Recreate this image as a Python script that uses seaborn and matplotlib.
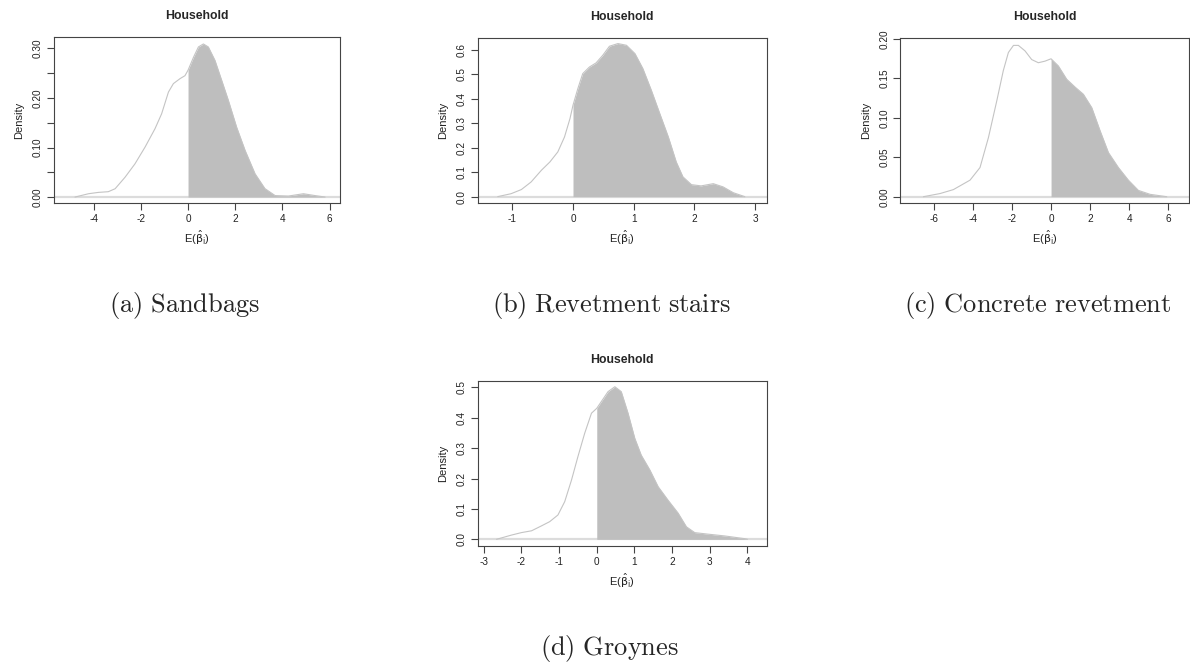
import numpy as np
import matplotlib
matplotlib.use("Agg")
import matplotlib.pyplot as plt
import seaborn as sns

# density curves (x = E(beta_i), y = density)
sandbags_x = [-4.79, -4.22, -3.80, -3.38, -3.09, -2.67, -2.25, -1.82, -1.40, -1.12, -0.83, -0.62,
              -0.34, -0.13, 0.0, 0.23, 0.44, 0.65, 0.86, 1.14, 1.43, 1.71, 2.06, 2.42, 2.84,
              3.26, 3.69, 4.25, 4.89, 5.38, 5.81]
sandbags_y = [0.0, 0.0067, 0.0094, 0.0108, 0.0168, 0.040, 0.067, 0.101, 0.138, 0.168, 0.212, 0.229,
              0.239, 0.245, 0.256, 0.282, 0.303, 0.309, 0.303, 0.276, 0.235, 0.195, 0.141, 0.094, 0.047,
              0.017, 0.003, 0.002, 0.0067, 0.003, 0.0]

stairs_x = [-1.24, -1.02, -0.85, -0.69, -0.52, -0.38, -0.25, -0.14, -0.05, 0.0, 0.08, 0.16, 0.27,
            0.38, 0.49, 0.60, 0.74, 0.88, 1.02, 1.15, 1.29, 1.43, 1.57, 1.70, 1.81, 1.95, 2.11,
            2.31, 2.47, 2.64, 2.83]
stairs_y = [0.0, 0.012, 0.029, 0.060, 0.108, 0.142, 0.183, 0.244, 0.319, 0.374, 0.442, 0.503, 0.530,
            0.547, 0.578, 0.615, 0.626, 0.619, 0.585, 0.524, 0.435, 0.339, 0.244, 0.142, 0.081, 0.049, 0.044,
            0.053, 0.040, 0.016, 0.0]

concrete_x = [-6.52, -5.67, -4.99, -4.14, -3.63, -3.20, -2.77, -2.44, -2.18, -1.92, -1.67, -1.33,
              -0.99, -0.65, -0.31, 0.0, 0.37, 0.80, 1.23, 1.65, 2.08, 2.50, 2.93, 3.44, 3.95,
              4.46, 5.06, 5.91]
concrete_y = [0.0, 0.004, 0.009, 0.021, 0.037, 0.075, 0.122, 0.160, 0.183, 0.192, 0.192, 0.185,
              0.174, 0.170, 0.172, 0.175, 0.166, 0.149, 0.139, 0.130, 0.113, 0.084, 0.056, 0.037, 0.021,
              0.008, 0.003, 0.0]

groynes_x = [-2.66, -2.26, -2.00, -1.73, -1.47, -1.25, -1.03, -0.85, -0.67, -0.50, -0.32, -0.14,
             0.0, 0.12, 0.30, 0.48, 0.65, 0.83, 1.01, 1.18, 1.41, 1.63, 1.89, 2.16, 2.38, 2.60,
             2.95, 3.40, 3.93, 4.00]
groynes_y = [0.0, 0.014, 0.022, 0.028, 0.044, 0.058, 0.080, 0.124, 0.195, 0.272, 0.349, 0.415,
             0.431, 0.453, 0.486, 0.502, 0.486, 0.415, 0.332, 0.277, 0.228, 0.173, 0.129, 0.086, 0.041, 0.022,
             0.017, 0.011, 0.002, 0.0]

captions = ["(a) Sandbags", "(b) Revetment stairs", "(c) Concrete revetment", "(d) Groynes"]

sns.set_style("ticks")
plt.rcParams['font.family'] = ['Liberation Sans', 'DejaVu Sans']
plt.rcParams['mathtext.fontset'] = 'cm'

fig = plt.figure(figsize=(11.9, 6.66), dpi=100)

panels = [
    # data, axes rect, xlim, ylim, xticks, yticks, label format, label every n-th ytick
    (sandbags_x, sandbags_y, [0.0454, 0.6952, 0.2403, 0.2492], (-5.68, 6.44), (-0.012, 0.323),
     np.arange(-4, 7, 2), np.arange(0, 0.31, 0.05), "{:.2f}", 2),
    (stairs_x, stairs_y, [0.4014, 0.6952, 0.2429, 0.2482], (-1.57, 3.19), (-0.026, 0.650),
     np.arange(-1, 4, 1), np.arange(0, 0.61, 0.1), "{:.1f}", 1),
    (concrete_x, concrete_y, [0.7566, 0.6952, 0.2426, 0.2473], (-7.70, 7.05), (-0.008, 0.201),
     np.arange(-6, 7, 2), np.arange(0, 0.201, 0.05), "{:.2f}", 1),
    (groynes_x, groynes_y, [0.4014, 0.1802, 0.2429, 0.2482], (-3.16, 4.51), (-0.022, 0.522),
     np.arange(-3, 5, 1), np.arange(0, 0.51, 0.1), "{:.1f}", 1),
]

for x, y, rect, xlim, ylim, xt, yt, fmt, every in panels:
    ax = fig.add_axes(rect)
    x = np.array(x)
    y = np.array(y)
    ax.axhline(0, color='#dcdcdc', lw=1.6, zorder=1)
    ax.fill_between(x, y, where=x >= 0, color='#bebebe', lw=0, zorder=2)
    sns.lineplot(x=x, y=y, ax=ax, color='#c4c4c4', lw=0.8, sort=False, zorder=3)
    ax.set_xlim(*xlim)
    ax.set_ylim(*ylim)
    ax.set_xticks(xt)
    ax.set_xticklabels([f"{v:g}" for v in xt])
    ax.set_yticks(yt)
    ax.set_yticklabels([fmt.format(v) if i % every == 0 else "" for i, v in enumerate(yt)],
                       rotation=90, va='center')
    ax.tick_params(length=5, width=0.8, color='#444444', labelsize=7.2, pad=3, labelcolor='#222222')
    for s in ax.spines.values():
        s.set_color('#444444')
        s.set_linewidth(0.8)
    ax.set_title("Household", fontsize=8.8, fontweight='bold', pad=13)
    ax.set_ylabel("Density", fontsize=8, labelpad=6, color='#222222')
    ax.set_xlabel(r"E($\hat{\mathrm{\beta}}_\mathrm{i}$)", fontsize=8, labelpad=3, color='#222222',
                  math_fontfamily='dejavusans')

cap_pos = [(0.155, 0.541), (0.514, 0.541), (0.872, 0.541), (0.512, 0.026)]
for (cx, cy), txt in zip(cap_pos, captions):
    fig.text(cx, cy, r"$\mathrm{" + txt.replace(" ", r"\ ") + "}$", fontsize=19,
             ha='center', va='center')

fig.savefig("out.png", dpi=100)
